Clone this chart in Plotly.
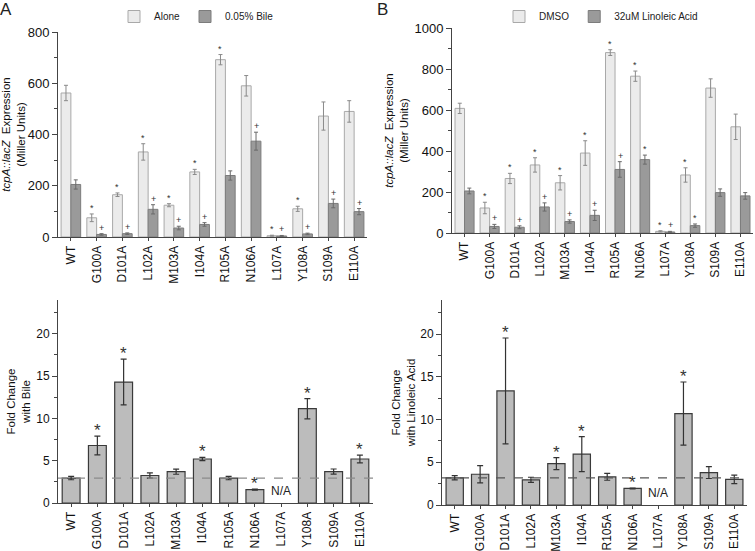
import plotly.graph_objects as go

categories = ["WT", "G100A", "D101A", "L102A", "M103A", "I104A", "R105A",
              "N106A", "L107A", "Y108A", "S109A", "E110A"]

# Panel A (top left)
alone = [562, 75, 165, 332, 124, 254, 692, 590, 5, 110, 472, 490]
alone_err = [30, 15, 7, 32, 6, 10, 20, 40, 2, 10, 55, 42]
bile = [205, 10, 13, 108, 35, 49, 240, 374, 4, 12, 131, 99]
bile_err = [18, 3, 3, 18, 7, 7, 18, 35, 2, 3, 17, 12]
alone_sig = ["", "*", "*", "*", "*", "*", "*", "", "*", "*", "", ""]
bile_sig = ["", "+", "+", "+", "+", "+", "", "+", "+", "+", "+", "+"]

# Panel B (top right)
dmso = [608, 122, 266, 332, 245, 390, 880, 765, 8, 283, 707, 518]
dmso_err = [25, 28, 25, 35, 35, 60, 14, 25, 3, 35, 45, 62]
la = [205, 32, 28, 127, 56, 86, 310, 358, 5, 36, 197, 181]
la_err = [14, 10, 7, 20, 8, 25, 38, 22, 3, 8, 18, 16]
dmso_sig = ["", "*", "*", "*", "*", "*", "*", "*", "*", "*", "", ""]
la_sig = ["", "+", "+", "+", "+", "+", "+", "*", "+", "*", "", ""]

# Panel C (bottom left) fold change with bile
fold_bile = [2.95, 6.8, 14.3, 3.25, 3.7, 5.2, 2.95, 1.58, None, 11.15, 3.72, 5.2]
fold_bile_err = [0.2, 1.1, 2.7, 0.3, 0.3, 0.2, 0.2, 0.05, None, 1.2, 0.3, 0.45]
fold_bile_sig = ["", "*", "*", "", "", "*", "", "*", "", "*", "", "*"]

# Panel D (bottom right) fold change with linoleic acid
fold_la = [3.18, 3.6, 13.35, 2.95, 4.85, 5.95, 3.3, 1.94, None, 10.7, 3.8, 3.0]
fold_la_err = [0.25, 1.0, 6.2, 0.3, 0.7, 2.05, 0.4, 0.05, None, 3.7, 0.7, 0.5]
fold_la_sig = ["", "", "*", "", "*", "*", "", "*", "", "*", "", ""]

na_label = "N/A"

FONT = "Liberation Sans, Arial, sans-serif"
LIGHT_FILL, LIGHT_LINE = "#ebebeb", "#a9a9a9"
DARK_FILL, DARK_LINE = "#9a9a9a", "#7c7c7c"
FOLD_FILL, FOLD_LINE = "#bcbcbc", "#3a3a3a"

fig = go.Figure()

BW = 0.38


def pair(xa, ya, v1, e1, n1, v2, e2, n2, legend):
    fig.add_trace(go.Bar(
        x=categories, y=v1, name=n1, width=BW, offset=-BW,
        marker=dict(color=LIGHT_FILL, line=dict(color=LIGHT_LINE, width=1)),
        error_y=dict(type="data", array=e1, color="#8a8a8a", thickness=1, width=2),
        xaxis=xa, yaxis=ya, legend=legend, showlegend=True))
    fig.add_trace(go.Bar(
        x=categories, y=v2, name=n2, width=BW, offset=0,
        marker=dict(color=DARK_FILL, line=dict(color=DARK_LINE, width=1)),
        error_y=dict(type="data", array=e2, color="#6a6a6a", thickness=1, width=2),
        xaxis=xa, yaxis=ya, legend=legend, showlegend=True))


pair("x", "y", alone, alone_err, "Alone", bile, bile_err, "0.05% Bile", "legend")
pair("x2", "y2", dmso, dmso_err, "DMSO", la, la_err, "32uM Linoleic Acid", "legend2")

for xa, ya, vals, errs in [("x3", "y3", fold_bile, fold_bile_err),
                           ("x4", "y4", fold_la, fold_la_err)]:
    fig.add_trace(go.Bar(
        x=categories, y=vals, width=0.68, showlegend=False,
        marker=dict(color=FOLD_FILL, line=dict(color=FOLD_LINE, width=1.2)),
        error_y=dict(type="data", array=errs, color="#333333", thickness=1.2, width=3),
        xaxis=xa, yaxis=ya))

annotations = []


def sig_marks(xa, ya, vals, errs, sigs, shift, size, pad):
    for c, v, e, s in zip(categories, vals, errs, sigs):
        if s and v is not None:
            annotations.append(dict(
                x=c, y=v + e, xref=xa, yref=ya, text=s, showarrow=False,
                xshift=shift, yshift=pad, yanchor="bottom",
                font=dict(size=size, color="#333333", family=FONT)))


sig_marks("x", "y", alone, alone_err, alone_sig, -5, 9, -1)
sig_marks("x", "y", bile, bile_err, bile_sig, 5, 9, -1)
sig_marks("x2", "y2", dmso, dmso_err, dmso_sig, -5, 9, -1)
sig_marks("x2", "y2", la, la_err, la_sig, 5, 9, -1)
sig_marks("x3", "y3", fold_bile, fold_bile_err, fold_bile_sig, 0, 17, -6)
sig_marks("x4", "y4", fold_la, fold_la_err, fold_la_sig, 0, 17, -6)

# N/A labels where the fold change is missing
for xa, ya, vals in [("x3", "y3", fold_bile), ("x4", "y4", fold_la)]:
    for c, v in zip(categories, vals):
        if v is None:
            annotations.append(dict(x=c, y=0, xref=xa, yref=ya, text=na_label,
                                    showarrow=False, yanchor="bottom", yshift=3,
                                    font=dict(size=12, color="#222", family=FONT)))

annotations += [
    dict(x=0.0, y=1.0, xref="paper", yref="paper", text="A", showarrow=False,
         xanchor="left", yanchor="top", xshift=-2, yshift=2,
         font=dict(size=17, color="#222", family=FONT)),
    dict(x=0.497, y=1.0, xref="paper", yref="paper", text="B", showarrow=False,
         xanchor="left", yanchor="top", yshift=2,
         font=dict(size=17, color="#222", family=FONT)),
]

shapes = [
    dict(type="line", xref="x3 domain", yref="y3", x0=0, x1=1,
         y0=fold_bile[0], y1=fold_bile[0],
         line=dict(color="#8a8a8a", width=1.3, dash="dash")),
    dict(type="line", xref="x4 domain", yref="y4", x0=0, x1=1,
         y0=fold_la[0], y1=fold_la[0],
         line=dict(color="#555555", width=1.1, dash="dash")),
]

W, H = 755, 551


def xd(a, b):
    return [a / W, b / W]


def yd(top, bottom):
    return [1 - bottom / H, 1 - top / H]


xaxis_common = dict(type="category", showline=True, linecolor="#444", linewidth=1,
                    ticks="outside", ticklen=3, tickcolor="#444", tickangle=-90,
                    tickfont=dict(size=12, color="#111", family=FONT),
                    showgrid=False, zeroline=False, automargin=False)
yaxis_common = dict(showline=True, linecolor="#444", linewidth=1, ticks="outside",
                    ticklen=5, tickcolor="#444", showgrid=False, zeroline=False,
                    automargin=False,
                    tickfont=dict(size=13, color="#111", family=FONT))

title_font = dict(size=11.5, color="#111", family=FONT)

fig.update_layout(
    width=W, height=H, margin=dict(l=0, r=0, t=0, b=0, autoexpand=False),
    paper_bgcolor="white", plot_bgcolor="white",
    barmode="group", font=dict(family=FONT),
    annotations=annotations, shapes=shapes,
    xaxis=dict(xaxis_common, domain=xd(58, 367), anchor="y"),
    yaxis=dict(yaxis_common, domain=yd(32, 237), range=[0, 800], dtick=200,
               minor=dict(dtick=100, ticks="outside", ticklen=3, tickcolor="#444"),
               anchor="x",
               title=dict(text="<i>tcpA::lacZ</i>  Expression<br>(Miller Units)",
                          font=title_font, standoff=5)),
    xaxis2=dict(xaxis_common, domain=xd(452, 753), anchor="y2"),
    yaxis2=dict(yaxis_common, domain=yd(28, 233), range=[0, 1000], dtick=200,
                minor=dict(dtick=100, ticks="outside", ticklen=3, tickcolor="#444"),
                anchor="x2",
                title=dict(text="<i>tcpA::lacZ</i>  Expression<br>(Miller Units)",
                           font=title_font, standoff=3)),
    xaxis3=dict(xaxis_common, domain=xd(58, 373), anchor="y3"),
    yaxis3=dict(yaxis_common, domain=yd(300, 503), range=[0, 24], dtick=5,
                tickfont=dict(size=12, color="#111", family=FONT),
                minor=dict(dtick=2.5, ticks="outside", ticklen=3, tickcolor="#444"),
                anchor="x3",
                title=dict(text="Fold Change<br>with Bile", font=title_font, standoff=3)),
    xaxis4=dict(xaxis_common, domain=xd(442, 747), anchor="y4"),
    yaxis4=dict(yaxis_common, domain=yd(300, 505), range=[0, 24], dtick=5,
                tickfont=dict(size=12, color="#111", family=FONT),
                minor=dict(dtick=2.5, ticks="outside", ticklen=3, tickcolor="#444"),
                anchor="x4",
                title=dict(text="Fold Change<br>with Linoleic Acid", font=title_font,
                           standoff=2)),
    legend=dict(orientation="h", x=114 / W, y=1 - 2 / H, xanchor="left", yanchor="top",
                font=dict(size=10, color="#222", family=FONT), itemwidth=30,
                bgcolor="rgba(0,0,0,0)", traceorder="normal"),
    legend2=dict(orientation="h", x=499 / W, y=1 - 2 / H, xanchor="left", yanchor="top",
                 font=dict(size=10, color="#222", family=FONT), itemwidth=30,
                 bgcolor="rgba(0,0,0,0)", traceorder="normal"),
)

fig.write_html("out.html", config={"displayModeBar": False},
               post_script="document.body.style.margin='0';"
                           "document.body.style.overflow='hidden';")
